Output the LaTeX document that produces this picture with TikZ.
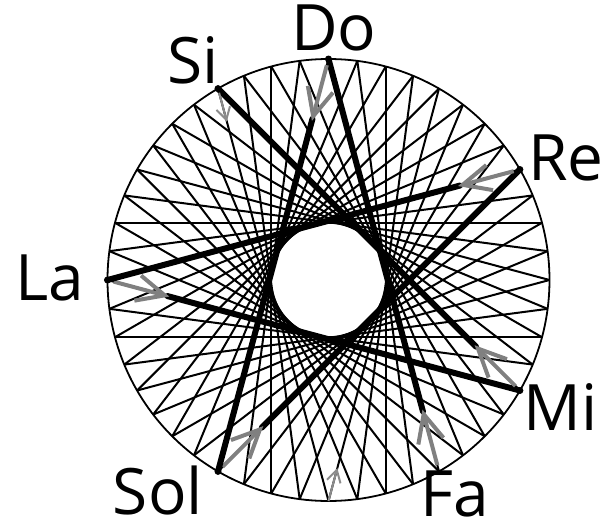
\documentclass[tikz,border=0pt]{standalone}
\usepackage{fontspec}
\setmainfont{Open Sans}
\usetikzlibrary{calc,arrows.meta}

\tikzset{
    chord/.style={line width=1pt},
    fourthline/.style={line width=3pt, line cap=round},
    backarrow/.style={draw=gray, line width=2pt, -{Straight Barb[length=14pt,width=13pt]}},
    minorarrow/.style={draw=gray!90, line width=1pt, -{Straight Barb[length=6pt,width=7pt]}},
    notename/.style={font=\fontsize{32}{32}\selectfont, inner sep=0pt}
}

\begin{document}
\begin{tikzpicture}[x=0.5pt, y=0.5pt]

    \useasboundingbox (-328.5,-251) rectangle (282.5,280);
    \def\R{221}

    % ---------- notes on the circle (12 semitones, 30 deg each) ----------
    \foreach \n/\a in {do/90, re/30, mi/-30, fa/-60, sol/-120, la/180, si/120, fis/-90, cis/60}
        \coordinate (\n) at (\a:\R);

    % ---------- circle and the 48 thin chords ----------
    \draw[line width=0.9pt] (0,0) circle (\R);
    \foreach \i in {0,...,47}
        \draw[chord] (\i*7.5:\R) -- (\i*7.5+150:\R);

    % ---------- thick fourths with arrows back from the target ----------
    \foreach \from/\to in {do/fa, re/sol, mi/la, sol/do, la/re, si/mi} {
        \draw[fourthline] (\from) -- ($(\from)!0.855!(\to)$);
        \fill (\from) circle (3.5);
        \draw[backarrow] ($(\to)!0.015!(\from)$) -- ($(\to)!0.15!(\from)$);
    }

    % small arrows (Si and F#)
    \draw[minorarrow] ($(si)!0.01!(fis)$) -- ($(si)!0.08!(fis)$);
    \draw[minorarrow] (fis) -- ($(fis)!0.08!(cis)$);

    % ---------- note names ----------
    \node[notename, anchor=base] (lDo) at (5.5,230) {Do};
    \node[notename, anchor=base west] (lRe) at (199.5,100) {Re};
    \node[notename, anchor=base west] (lMi) at (194.5,-150) {Mi};
    \node[notename, anchor=base west] (lFa) at (91.5,-236) {Fa};
    \node[notename, anchor=base west] (lSol) at (-216,-234) {Sol};
    \node[notename, anchor=base west] (lLa) at (-313.5,-20) {La};
    \node[notename, anchor=base] (lSi) at (-135.5,197) {Si};

\end{tikzpicture}
\end{document}
